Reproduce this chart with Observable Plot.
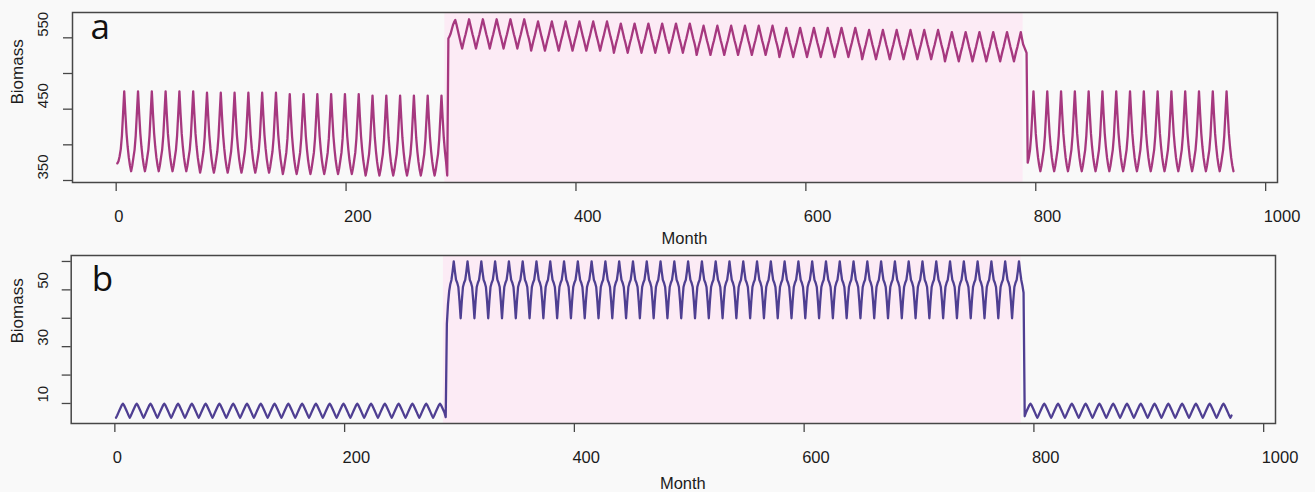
<!DOCTYPE html>
<html>
<head>
<meta charset="utf-8">
<script src="https://cdn.jsdelivr.net/npm/d3@7"></script>
<script src="https://cdn.jsdelivr.net/npm/@observablehq/plot@0.6"></script>
<style>
html, body { margin: 0; padding: 0; background: #f9f9f9; }
#chart { width: 1315px; height: 492px; overflow: hidden; }
#chart svg { display: block; }
</style>
</head>
<body>
<div id="chart"></div>
<script>
// ---------- Axis ticks / labels ----------
const xTicks = [0, 200, 400, 600, 800, 1000];
const yTicksA = [350, 400, 450, 500, 550];
const yLabelsA = [350, 450, 550];
const yTicksB = [10, 20, 30, 40, 50, 60];
const yLabelsB = [10, 30, 50];
const panelLetters = ["a", "b"];
const axisTitleX = "Month";
const axisTitleY = "Biomass";

// ---------- Shaded period (months) ----------
const shadedPeriod = [{start: 286, end: 789}];

// ---------- Panel a: monthly biomass, one 12-month row per year ----------
const A1s = [374, 377, 384, 394, 413, 444, 475, 444, 416, 397, 382, 371];
const A1a = [363, 371, 382, 393, 413, 444, 475, 444, 416, 397, 382, 371];
const A1b = [361, 369, 380, 391, 411, 442, 473, 442, 414, 395, 380, 369];
const A1c = [359, 367, 378, 389, 409, 440, 471, 440, 412, 393, 378, 367];
const A1d = [357, 365, 376, 387, 407, 438, 469, 438, 410, 391, 376, 365];
const A1e = [357, 365, 376, 387, 407, 438, 469, 438, 410, 391, 376, 357];
const A2s = [549, 552, 556, 562, 568, 572, 575, 569, 562, 555, 548, 541];
const A2a = [535, 542, 549, 555, 562, 569, 576, 569, 562, 555, 549, 542];
const A2b = [532, 539, 546, 552, 559, 566, 573, 566, 559, 552, 546, 539];
const A2c = [529, 536, 543, 549, 556, 563, 570, 563, 556, 549, 543, 536];
const A2d = [526, 533, 540, 546, 553, 560, 567, 560, 553, 546, 540, 533];
const A2e = [523, 530, 537, 543, 550, 557, 564, 557, 550, 543, 537, 530];
const A2f = [520, 527, 534, 540, 547, 554, 561, 554, 547, 540, 534, 527];
const A2g = [517, 524, 531, 537, 544, 551, 558, 551, 544, 537, 531, 524];
const A2e_ = [517, 524, 531, 537, 544, 551, 558, 549, 541, 537, 533, 529];
const A3s = [375, 382, 393, 413, 444, 475, 444, 416, 397, 382, 371, 363];
const A3 = [371, 382, 393, 413, 444, 475, 444, 416, 397, 382, 371, 363];
const yearsA = [
  A1s, A1a, A1a, A1a, A1a, A1a,
  A1b, A1b, A1b, A1b, A1b, A1b,
  A1c, A1c, A1c, A1c, A1c, A1c,
  A1d, A1d, A1d, A1d, A1d, A1e,
  A2s, A2a, A2a, A2a, A2a, A2a,
  A2b, A2b, A2b, A2b, A2b, A2b,
  A2c, A2c, A2c, A2c, A2c, A2c,
  A2d, A2d, A2d, A2d, A2d, A2d,
  A2e, A2e, A2e, A2e, A2e, A2e,
  A2f, A2f, A2f, A2f, A2f, A2f,
  A2g, A2g, A2g, A2g, A2g, A2e_,
  A3s, A3, A3, A3, A3, A3, A3, A3, A3, A3, A3, A3, A3, A3, A3
];

// ---------- Panel b: monthly biomass, one 12-month row per year ----------
const B1 = [5, 5.8, 6.7, 7.6, 8.5, 9.4, 9.9, 9.4, 8.5, 7.6, 6.7, 5.8];
const B1e = [5, 5.8, 6.7, 7.6, 8.5, 9.4, 9.9, 9.4, 8.5, 7.6, 6.7, 5.2];
const B2s = [38, 45, 49.5, 52, 53.5, 56.5, 60, 56.5, 53.5, 52.5, 51, 46];
const B2 = [40, 46, 51, 52.5, 53.5, 56.5, 60, 56.5, 53.5, 52.5, 51, 46];
const B2e = [40, 46, 51, 52.5, 53.5, 56.5, 60, 56.5, 53.5, 51.5, 49, 5.5];
const B3 = [6.7, 7.6, 8.5, 9.4, 9.9, 9.4, 8.5, 7.6, 6.7, 5.8, 5, 5.8];
const yearsB = [
  B1, B1, B1, B1, B1, B1, B1, B1, B1, B1, B1, B1,
  B1, B1, B1, B1, B1, B1, B1, B1, B1, B1, B1, B1e,
  B2s, B2, B2, B2, B2, B2, B2, B2, B2, B2, B2, B2,
  B2, B2, B2, B2, B2, B2, B2, B2, B2, B2, B2, B2,
  B2, B2, B2, B2, B2, B2, B2, B2, B2, B2, B2, B2,
  B2, B2, B2, B2, B2, B2e,
  B3, B3, B3, B3, B3, B3, B3, B3, B3, B3, B3, B3, B3, B3, B3
];

// ---------- Build & draw ----------
const xDomain = [-38, 1010.3];
const shadeColor = "#fcebf5";
const axisColor = "#474747";
const font = "'Liberation Sans', Arial, Helvetica, sans-serif";

function panel(o) {
  const data = o.years.flat().map((v, i) => ({month: i + 1, value: v}));
  return Plot.plot({
    width: 1315,
    height: o.height,
    marginTop: o.mt, marginBottom: o.mb, marginLeft: o.ml, marginRight: o.mr,
    style: {background: "transparent", fontFamily: font, color: "#1c1c1c", overflow: "visible"},
    x: {domain: xDomain, axis: null, label: null},
    y: {domain: o.yDomain, axis: null, label: null},
    marks: [
      Plot.rect(shadedPeriod, {x1: "start", x2: "end", y1: () => o.yDomain[0], y2: () => o.yDomain[1], fill: shadeColor}),
      Plot.line(data, {x: "month", y: "value", stroke: o.color, strokeWidth: 2.3, strokeLinejoin: "round"}),
      Plot.frame({stroke: axisColor, strokeWidth: 1.5}),
      Plot.axisX(xTicks, {tickSize: 9, tickFormat: () => "", label: null, stroke: axisColor, strokeWidth: 1.3}),
      Plot.text(xTicks, {x: d => d, text: d => String(d), frameAnchor: "bottom", lineAnchor: "top",
        textAnchor: "start", dx: -2, dy: 28, fontSize: 16.5, fill: "#1c1c1c"}),
      Plot.axisY(o.yTicks, {tickSize: 9, tickFormat: () => "", label: null, stroke: axisColor, strokeWidth: 1.3}),
      Plot.text(o.yLabels, {y: d => d, text: d => String(d), frameAnchor: "left", rotate: -90,
        textAnchor: "start", lineAnchor: "middle", dx: o.ylabDx, dy: -1, fontSize: 15, fill: "#1c1c1c"}),
      Plot.text([axisTitleY], {text: d => d, frameAnchor: "left", rotate: -90, lineAnchor: "middle",
        dx: o.ytitleDx, dy: o.ytitleDy, fontSize: 17, fill: "#1c1c1c"}),
      Plot.text([axisTitleX], {text: d => d, frameAnchor: "bottom", lineAnchor: "middle",
        dx: 9.5, dy: o.xtitleDy, fontSize: 16.5, fill: "#1c1c1c"}),
      Plot.text([o.letter], {text: d => d, frameAnchor: "top-left", textAnchor: "start", lineAnchor: "middle",
        dx: o.letterDx, dy: o.letterDy, fontSize: 35, fontFamily: "'Open Sans', 'Noto Sans', sans-serif", fill: "#111"})
    ]
  });
}

const chart = document.getElementById("chart");
chart.append(panel({
  years: yearsA, color: "#a6387f", yDomain: [347.2, 585.5], yTicks: yTicksA, yLabels: yLabelsA,
  letter: panelLetters[0], height: 245, mt: 12, mb: 63, ml: 72, mr: 38,
  ylabDx: -29.5, ytitleDx: -55, ytitleDy: 7, xtitleDy: 56, letterDx: 18, letterDy: 15.2
}));
chart.append(panel({
  years: yearsB, color: "#4f3f92", yDomain: [2.95, 62.1], yTicks: yTicksB, yLabels: yLabelsB,
  letter: panelLetters[1], height: 247, mt: 10, mb: 69, ml: 70.7, mr: 40,
  ylabDx: -28.2, ytitleDx: -53.7, ytitleDy: 4, xtitleDy: 60.3, letterDx: 20.5, letterDy: 23.8
}));
</script>
</body>
</html>
